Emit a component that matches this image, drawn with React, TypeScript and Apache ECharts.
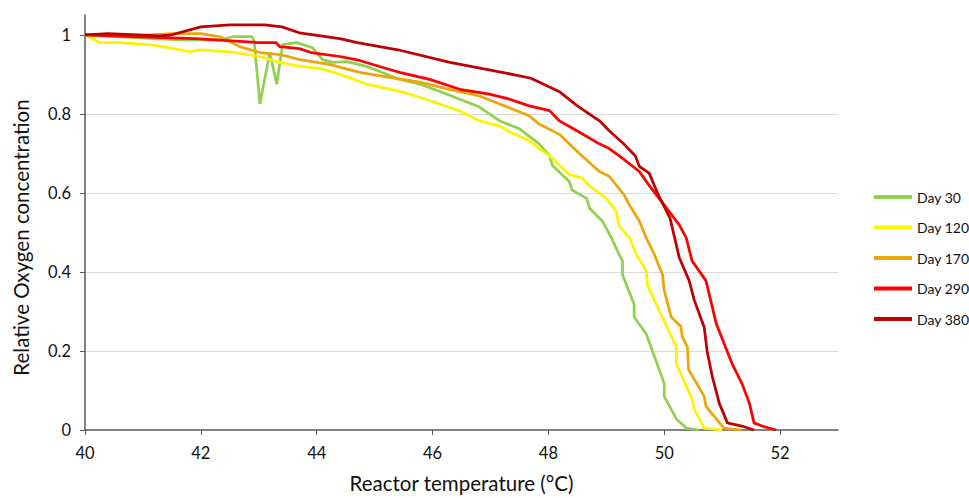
import React, { useEffect, useRef } from "react";
import * as echarts from "echarts";

const seriesNames = ["Day 30", "Day 120", "Day 170", "Day 290", "Day 380"];
const seriesColors = ["#92D050", "#FFF200", "#EDA60A", "#FF0000", "#C00000"];

const day30: number[][] = [
  [40, 1.0], [40.5, 0.995], [41.64, 0.987], [42.33, 0.987], [42.55, 0.995], [42.88, 0.995],
  [42.92, 0.985], [43.02, 0.825], [43.19, 0.955], [43.31, 0.875], [43.41, 0.975], [43.66, 0.98],
  [43.93, 0.967], [44.1, 0.937], [44.28, 0.93], [44.52, 0.932], [44.86, 0.92], [45.09, 0.907],
  [45.43, 0.887], [45.78, 0.875], [46.12, 0.857], [46.47, 0.837], [46.81, 0.817], [47.16, 0.782],
  [47.5, 0.762], [47.84, 0.724], [48.02, 0.694], [48.07, 0.669], [48.36, 0.629], [48.41, 0.607],
  [48.66, 0.586], [48.71, 0.561], [48.93, 0.529], [49.09, 0.486], [49.22, 0.444], [49.28, 0.428],
  [49.28, 0.393], [49.48, 0.318], [49.48, 0.286], [49.69, 0.243], [50.0, 0.118], [50.0, 0.085],
  [50.21, 0.028], [50.38, 0.005], [50.6, 0],
];

const day120: number[][] = [
  [40, 1.0], [40.26, 0.98], [40.6, 0.98], [41.12, 0.975], [41.47, 0.967], [41.81, 0.957],
  [41.98, 0.962], [42.5, 0.957], [43.02, 0.945], [43.36, 0.93], [43.71, 0.92], [44.05, 0.915],
  [44.4, 0.9], [44.86, 0.875], [45.43, 0.857], [45.78, 0.842], [46.12, 0.825], [46.47, 0.807],
  [46.81, 0.782], [47.16, 0.769], [47.33, 0.754], [47.67, 0.732], [47.84, 0.712], [48.02, 0.694],
  [48.19, 0.67], [48.36, 0.646], [48.59, 0.637], [48.71, 0.617], [49.0, 0.586], [49.17, 0.554],
  [49.22, 0.516], [49.4, 0.486], [49.52, 0.444], [49.69, 0.403], [49.71, 0.366], [49.91, 0.303],
  [50.21, 0.21], [50.21, 0.168], [50.48, 0.078], [50.52, 0.053], [50.69, 0.005], [51.0, 0],
];

const day170: number[][] = [
  [40, 1.0], [40.8, 0.997], [41.5, 1.003], [42.0, 1.003], [42.33, 0.995], [42.67, 0.97],
  [43.02, 0.955], [43.36, 0.95], [43.71, 0.937], [44.22, 0.925], [44.74, 0.905], [45.26, 0.892],
  [45.78, 0.88], [46.29, 0.862], [46.81, 0.845], [47.16, 0.825], [47.67, 0.795], [47.84, 0.774],
  [48.19, 0.748], [48.53, 0.7], [48.88, 0.654], [49.05, 0.642], [49.31, 0.594], [49.4, 0.569],
  [49.57, 0.529], [49.69, 0.486], [49.83, 0.444], [49.97, 0.393], [50.0, 0.353], [50.12, 0.286],
  [50.29, 0.261], [50.31, 0.236], [50.4, 0.21], [50.42, 0.153], [50.69, 0.085], [50.72, 0.06],
  [51.03, 0.005], [51.33, 0],
];

const day290: number[][] = [
  [40, 1.0], [40.8, 0.995], [41.9, 0.99], [43.0, 0.98], [43.3, 0.98], [43.36, 0.97],
  [43.7, 0.965], [43.9, 0.955], [44.4, 0.945], [44.74, 0.935], [45.26, 0.912], [45.43, 0.905],
  [45.95, 0.887], [46.47, 0.862], [46.98, 0.85], [47.33, 0.837], [47.67, 0.82], [48.02, 0.808],
  [48.19, 0.782], [48.53, 0.754], [48.88, 0.724], [49.05, 0.712], [49.22, 0.694], [49.57, 0.654],
  [49.74, 0.619], [50.0, 0.569], [50.26, 0.519], [50.38, 0.486], [50.48, 0.428], [50.72, 0.378],
  [50.9, 0.268], [51.17, 0.168], [51.34, 0.118], [51.47, 0.068], [51.55, 0.018], [51.69, 0.01],
  [51.93, 0],
];

const day380: number[][] = [
  [40, 1.0], [40.4, 1.003], [41.3, 0.997], [41.5, 1.0], [42.0, 1.02], [42.5, 1.025],
  [43.1, 1.025], [43.4, 1.02], [43.7, 1.005], [44.4, 0.99], [44.7, 0.98], [45.4, 0.962],
  [46.3, 0.93], [47.2, 0.905], [47.7, 0.89], [48.2, 0.855], [48.5, 0.82], [48.9, 0.78],
  [49.05, 0.757], [49.3, 0.724], [49.5, 0.694], [49.57, 0.667], [49.74, 0.65], [49.9, 0.594],
  [50.1, 0.536], [50.26, 0.436], [50.43, 0.378], [50.52, 0.328], [50.69, 0.26], [50.74, 0.2],
  [50.83, 0.135], [50.95, 0.068], [51.09, 0.018], [51.34, 0.01], [51.55, 0],
];

const seriesData = [day30, day120, day170, day290, day380];

const xTicks = [40, 42, 44, 46, 48, 50, 52];
const yTicks = [0, 0.2, 0.4, 0.6, 0.8, 1];

const FONT = "Lato, 'Open Sans', sans-serif";

export default function App() {
  const ref = useRef<HTMLDivElement>(null);

  useEffect(() => {
    if (!ref.current) return;
    const chart = echarts.init(ref.current, undefined, { renderer: "svg" });
    chart.setOption({
      animation: false,
      backgroundColor: "#ffffff",
      textStyle: { fontFamily: FONT },
      grid: { left: 85, right: 131, top: 15, bottom: 64, containLabel: false },
      legend: {
        orient: "vertical",
        left: 874,
        top: 189,
        icon: "rect",
        itemWidth: 38,
        itemHeight: 4,
        itemGap: 14.5,
        padding: 0,
        textStyle: { fontFamily: FONT, fontSize: 14, color: "#111", lineHeight: 16 },
        data: seriesNames,
      },
      xAxis: {
        type: "value",
        min: 40,
        max: 53,
        interval: 2,
        name: "Reactor temperature (°C)",
        nameLocation: "middle",
        nameGap: 42,
        nameTextStyle: { fontFamily: FONT, fontSize: 20.5, color: "#111" },
        axisLine: { show: true, onZero: false, lineStyle: { color: "#595959", width: 1.5 } },
        axisTick: { show: true, length: 5, customValues: xTicks, lineStyle: { color: "#595959" } },
        axisLabel: {
          customValues: xTicks,
          margin: 14,
          fontFamily: FONT,
          fontSize: 16.5,
          color: "#111",
        },
        splitLine: { show: false },
      },
      yAxis: {
        type: "value",
        min: 0,
        max: 1.05,
        interval: 0.2,
        name: "Relative Oxygen concentration",
        nameLocation: "middle",
        nameGap: 54,
        nameTextStyle: { fontFamily: FONT, fontSize: 20.5, color: "#111", padding: [0, 30, 0, 0] },
        axisLine: { show: true, lineStyle: { color: "#595959", width: 1.5 } },
        axisTick: { show: true, length: 5, customValues: yTicks, lineStyle: { color: "#595959" } },
        axisLabel: {
          customValues: yTicks,
          margin: 14,
          fontFamily: FONT,
          fontSize: 16.5,
          color: "#111",
        },
        splitLine: { show: true, showMaxLine: false, showMinLine: false, lineStyle: { color: "#d9d9d9", width: 1 } },
      },
      series: seriesNames.map((name, i) => ({
        name,
        type: "line",
        data: seriesData[i],
        symbol: "none",
        showSymbol: false,
        color: seriesColors[i],
        lineStyle: { color: seriesColors[i], width: 2.75 },
        z: 2 + i,
      })),
    });
    return () => chart.dispose();
  }, []);

  return (
    <div
      ref={ref}
      style={{ position: "fixed", left: 0, top: 0, width: 969, height: 498, background: "#fff" }}
    />
  );
}
